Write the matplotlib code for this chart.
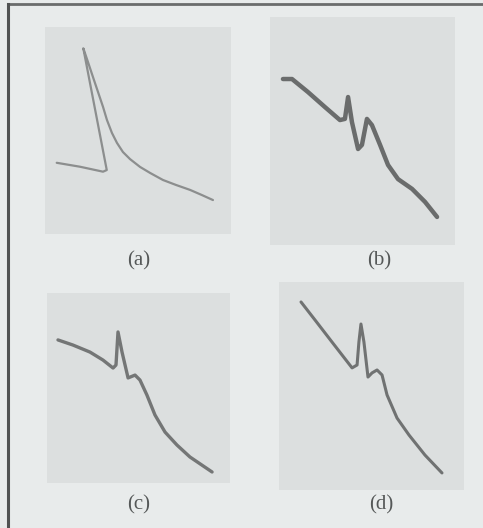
import matplotlib.pyplot as plt
from matplotlib.lines import Line2D

# curve values per panel, x and y in 0..100 panel units (y upwards)
a_x = [6.3, 18.8, 31.2, 33.2, 20.6, 23.1, 25.8, 28.5, 31.2, 33.3, 36.0, 38.7,
       41.9, 45.7, 51.1, 56.5, 63.4, 70.4, 78.0, 84.4, 90.3]
a_y = [34.4, 32.5, 30.1, 30.9, 89.7, 83.1, 75.8, 68.6, 61.4, 55.1, 48.8, 44.0,
       39.6, 36.2, 32.4, 29.5, 26.1, 23.7, 21.3, 18.8, 16.4]

b_x = [7.0, 11.9, 20.5, 29.7, 37.8, 40.5, 42.2, 44.3, 47.6, 49.7, 52.4, 55.1,
       59.5, 63.8, 69.2, 76.8, 83.8, 90.3]
b_y = [72.8, 72.8, 67.1, 60.5, 54.8, 55.3, 64.9, 53.9, 42.1, 43.9, 55.3, 52.6,
       43.9, 35.1, 28.9, 24.6, 18.9, 12.3]

c_x = [6.0, 14.2, 23.5, 30.6, 36.1, 37.7, 38.8, 41.0, 44.3, 48.1, 50.8, 54.6,
       59.0, 64.5, 71.0, 78.1, 90.2]
c_y = [75.3, 72.6, 68.9, 64.7, 60.5, 62.1, 79.5, 68.9, 55.3, 56.8, 54.2, 46.3,
       35.8, 26.8, 20.0, 13.7, 5.8]

d_x = [11.9, 19.5, 28.6, 39.5, 42.2, 43.2, 44.3, 45.9, 48.1, 50.3, 53.0, 55.7,
       58.4, 63.8, 70.3, 78.9, 88.1]
d_y = [90.4, 81.7, 71.2, 58.7, 60.1, 71.2, 79.8, 71.2, 54.3, 56.3, 57.7, 55.3,
       45.7, 34.6, 26.4, 16.8, 8.2]

labels = ['(a)', '(b)', '(c)', '(d)']

W, H = 483, 528
fig = plt.figure(figsize=(W / 100, H / 100), dpi=100)
fig.patch.set_facecolor('#e8ebeb')

# panel boxes in pixels: left, top, width, height
boxes = [(45, 27, 186, 207), (270, 17, 185, 228), (47, 293, 183, 190), (279, 282, 185, 208)]
curves = [(a_x, a_y), (b_x, b_y), (c_x, c_y), (d_x, d_y)]
widths = [1.6, 3.2, 2.4, 2.2]
colors = ['#8c8e8e', '#6a6c6c', '#747676', '#707272']
label_pos = [(139, 261), (379, 261), (139, 505), (381, 505)]

for (l, t, w, h), (xs, ys), lw, col, lab, (lx, ly) in zip(boxes, curves, widths, colors, labels, label_pos):
    ax = fig.add_axes([l / W, 1 - (t + h) / H, w / W, h / H])
    ax.set_facecolor('#dcdfdf')
    ax.plot(xs, ys, color=col, lw=lw, solid_capstyle='round', solid_joinstyle='round')
    ax.set_xlim(0, 100)
    ax.set_ylim(0, 100)
    ax.set_xticks([])
    ax.set_yticks([])
    for s in ax.spines.values():
        s.set_visible(False)
    fig.text(lx / W, 1 - ly / H, lab, ha='center', va='center', fontsize=15,
             family='Liberation Serif', color='#555858')

# frame lines at top and left
fig.add_artist(Line2D([8 / W, 1], [1 - 4 / H, 1 - 4 / H], transform=fig.transFigure,
                      color='#6a6c6c', lw=2))
fig.add_artist(Line2D([8 / W, 8 / W], [0, 1 - 4 / H], transform=fig.transFigure,
                      color='#505252', lw=2.2))

fig.savefig('out.png', dpi=100, facecolor=fig.get_facecolor())
